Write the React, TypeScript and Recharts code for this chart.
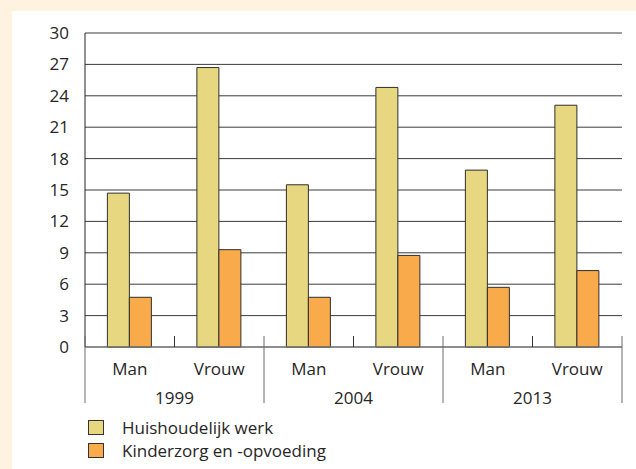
import React from "react";
import { BarChart, Bar, XAxis, YAxis, CartesianGrid } from "recharts";

const years = ["1999", "1999", "2004", "2004", "2013", "2013"];
const sexes = ["Man", "Vrouw", "Man", "Vrouw", "Man", "Vrouw"];
const huishoudelijk = [14.7, 26.7, 15.5, 24.8, 16.9, 23.1];
const kinderzorg = [4.75, 9.3, 4.75, 8.75, 5.7, 7.3];
const yTicks = [0, 3, 6, 9, 12, 15, 18, 21, 24, 27, 30];

const data = sexes.map((sex, i) => ({
  key: `${years[i]}-${sex}`,
  sex,
  year: years[i],
  huishoudelijk: huishoudelijk[i],
  kinderzorg: kinderzorg[i],
}));

const FONT = "'Open Sans', sans-serif";
const FS = 17;
const W = 636;
const H = 469;
const M = { top: 33, right: 14, left: 25, bottom: 52 };
const Y_W = 60;
const BAND = (W - M.left - M.right - Y_W) / data.length;

const YELLOW = "#E6D780";
const ORANGE = "#F9AA4B";

const CategoryTick = (props: any) => {
  const { x, y, index } = props;
  const row = data[index];
  const left = x - BAND / 2;
  const right = x + BAND / 2;
  return (
    <g>
      <text x={x} y={y + 28} textAnchor="middle" fontSize={FS} fill="#262626" fontFamily={FONT}>
        {row.sex}
      </text>
      {index % 2 === 0 && (
        <>
          <line x1={left} x2={left} y1={y - 11} y2={y + 56} stroke="#6b6b6b" />
          <line x1={right} x2={right} y1={y - 11} y2={y} stroke="#333" />
        </>
      )}
      {index % 2 === 1 && (
        <text x={left} y={y + 57} textAnchor="middle" fontSize={FS} fill="#262626" fontFamily={FONT}>
          {row.year}
        </text>
      )}
      {index === data.length - 1 && (
        <line x1={right} x2={right} y1={y - 11} y2={y + 56} stroke="#6b6b6b" />
      )}
    </g>
  );
};

const legendItems = [
  { label: "Huishoudelijk werk", color: YELLOW },
  { label: "Kinderzorg en -opvoeding", color: ORANGE },
];

const LegendBox = () => (
  <div style={{ fontFamily: FONT, fontSize: FS, color: "#262626" }}>
    {legendItems.map((it) => (
      <div key={it.label} style={{ display: "flex", alignItems: "center", height: 23 }}>
        <span
          style={{
            width: 14,
            height: 13,
            background: it.color,
            border: "1px solid #333",
            marginRight: 18,
            display: "inline-block",
          }}
        />
        <span>{it.label}</span>
      </div>
    ))}
  </div>
);

export default function App() {
  return (
    <div style={{ position: "relative", width: W, height: H, background: "#FEF3E1", overflow: "hidden" }}>
      <style>{"body{margin:0;overflow:hidden}"}</style>
      <div style={{ position: "absolute", left: 12, top: 11, right: 0, bottom: 0, background: "#fff" }} />
      <div style={{ position: "absolute", left: 0, top: 0 }}>
        <BarChart
          width={W}
          height={H}
          data={data}
          margin={M}
          barCategoryGap="25%"
          barGap={0}
        >
          <CartesianGrid vertical={false} stroke="#3c3c3c" />
          <XAxis
            dataKey="key"
            interval={0}
            tickLine={false}
            tickSize={0}
            tickMargin={0}
            height={70}
            axisLine={{ stroke: "#7f7f7f" }}
            tick={<CategoryTick />}
          />
          <YAxis
            domain={[0, 30]}
            ticks={yTicks}
            width={Y_W}
            tickLine={false}
            tickSize={0}
            tickMargin={16}
            axisLine={{ stroke: "#222" }}
            tick={{ fontSize: FS, fill: "#262626", fontFamily: FONT }}
          />
          <Bar dataKey="huishoudelijk" fill={YELLOW} stroke="#2f2f2f" strokeWidth={1} isAnimationActive={false} />
          <Bar dataKey="kinderzorg" fill={ORANGE} stroke="#2f2f2f" strokeWidth={1} isAnimationActive={false} />
        </BarChart>
      </div>
      <div style={{ position: "absolute", left: 88, top: 416 }}>
        <LegendBox />
      </div>
    </div>
  );
}
